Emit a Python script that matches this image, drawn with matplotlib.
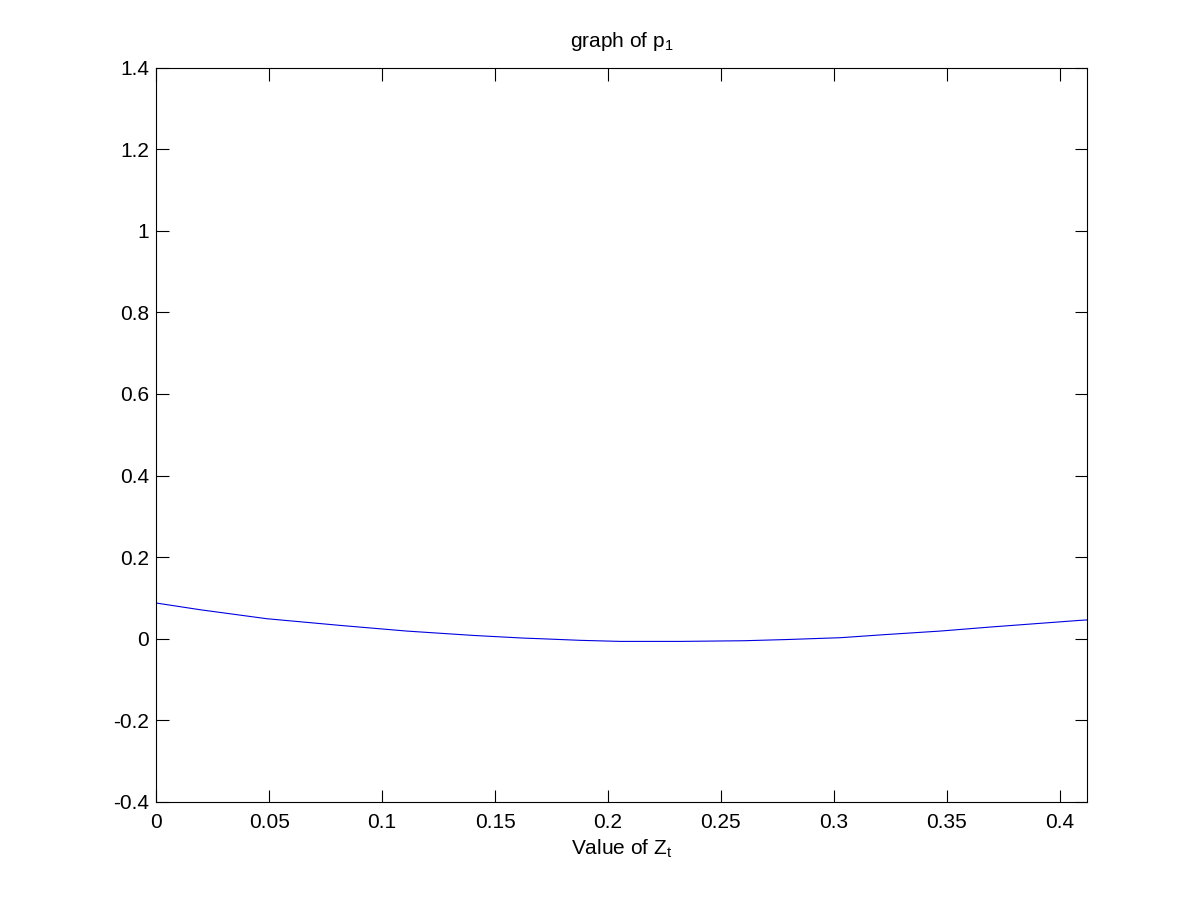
import matplotlib
matplotlib.use("Agg")
import matplotlib.pyplot as plt
from matplotlib.ticker import FuncFormatter

plt.rcParams['font.family'] = ['Liberation Sans', 'DejaVu Sans']
plt.rcParams['mathtext.default'] = 'regular'

# values
z_vals = [0.0, 0.0195, 0.049, 0.0815, 0.111, 0.1405, 0.1627, 0.170, 0.1878,
          0.2055, 0.232, 0.260, 0.2793, 0.303, 0.322, 0.347, 0.369, 0.409, 0.412]
p1_vals = [0.0875, 0.071, 0.049, 0.0326, 0.0187, 0.008, 0.0015, 0.0, -0.004,
           -0.0066, -0.0066, -0.005, -0.002, 0.0025, 0.0098, 0.0187, 0.0285, 0.045, 0.046]

x_ticks = [0, 0.05, 0.1, 0.15, 0.2, 0.25, 0.3, 0.35, 0.4]
y_ticks = [-0.4, -0.2, 0, 0.2, 0.4, 0.6, 0.8, 1.0, 1.2, 1.4]

fig = plt.figure(figsize=(12.01, 9.01), dpi=100)
ax = fig.add_axes([0.13, 0.11, 0.775, 0.815])

ax.plot(z_vals, p1_vals, color='#0000e0', linewidth=0.8)

ax.set_xlim(0, 0.412)
ax.set_ylim(-0.4, 1.4)
ax.set_xticks(x_ticks)
ax.set_yticks(y_ticks)
fmt = FuncFormatter(lambda v, pos: ('%g' % round(v, 4)).replace('\u2212', '-'))
ax.xaxis.set_major_formatter(fmt)
ax.yaxis.set_major_formatter(fmt)

ax.tick_params(direction='in', length=9, width=0.8, labelsize=15,
               top=True, right=True)
ax.tick_params(axis='x', pad=8)
ax.tick_params(axis='y', pad=5)
for s in ax.spines.values():
    s.set_linewidth(0.8)

ax.set_title('graph of p$_1$', fontsize=15, pad=15)
ax.set_xlabel('Value of Z$_t$', fontsize=15, labelpad=4)

fig.savefig('out.png', dpi=100)
